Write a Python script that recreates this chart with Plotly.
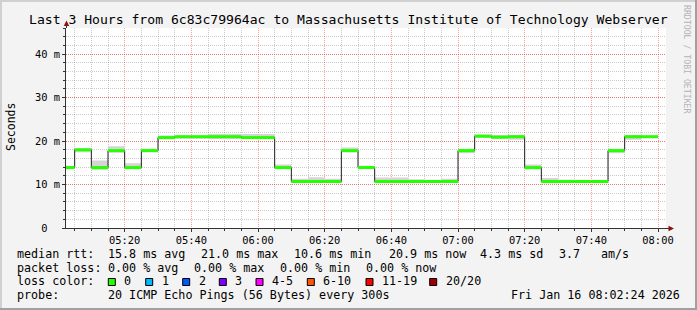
import pandas as pd
import plotly.graph_objects as go

# ---------------- data ----------------
interval_end = pd.date_range("2026-01-16 05:05", "2026-01-16 08:00", freq="5min")
median_ms = [13.9, 18.0, 13.9, 17.8, 13.9, 17.8, 20.8, 21.0, 21.0, 21.0, 21.0, 20.8,
             20.8, 13.9, 10.7, 10.7, 10.7, 17.8, 13.9, 10.7, 10.7, 10.7, 10.7, 10.7,
             17.8, 21.1, 20.9, 21.0, 13.9, 10.7, 10.7, 10.7, 10.7, 17.8, 21.0, 21.0]
smoke_lo_ms = [13.6, 17.4, 13.4, 17.3, 13.6, 17.4, 20.4, 20.5, 20.5, 20.4, 20.4, 20.5,
               20.5, 13.6, 10.5, 10.5, 10.5, 17.4, 13.7, 10.3, 10.3, 10.5, 10.5, 10.5,
               17.2, 20.8, 20.4, 20.3, 13.5, 10.3, 10.5, 10.5, 10.5, 17.2, 20.3, 20.8]
smoke_hi_ms = [14.3, 18.3, 15.5, 18.8, 14.9, 18.2, 21.3, 21.3, 21.3, 21.6, 21.6, 21.6,
               21.6, 14.6, 11.3, 11.7, 11.3, 18.5, 14.3, 11.6, 11.6, 11.2, 10.8, 11.3,
               18.2, 21.5, 21.4, 21.4, 14.6, 11.5, 11.1, 10.9, 10.9, 18.2, 21.4, 21.2]

x_range = ["2026-01-16 05:02:24", "2026-01-16 08:02:24"]
y_range = [0, 46]
y_tickvals = [0, 10, 20, 30, 40]
y_ticktext = ["0\u00a0\u00a0", "10 m", "20 m", "30 m", "40 m"]

title_text = "Last 3 Hours from 6c83c79964ac to Massachusetts Institute of Technology Webserver"
rtt_values = [15.8, 21.0, 10.6, 20.9]
rtt_labels = ["avg", "max", "min", "now"]
rtt_sd = 4.3
rtt_ams = 3.7
loss_values = [0.00, 0.00, 0.00, 0.00]
loss_labels = ["avg", "max", "min", "now"]
loss_color_labels = ["0", "1", "2", "3", "4-5", "6-10", "11-19", "20/20"]
loss_colors = ["#26ff00", "#00b8ff", "#0059ff", "#7e00ff", "#ff00ff", "#ff5500", "#ff0000", "#a10000"]
probe_text = "20 ICMP Echo Pings (56 Bytes) every 300s"
date_text = "Fri Jan 16 08:02:24 2026"

# ---------------- layout geometry (pixels) ----------------
W, H = 697, 310
PL, PR, PT, PB = 66, 666, 28, 228
MONO = "DejaVu Sans Mono"


def px(xp):
    return (xp - PL) / (PR - PL)


def py(yp):
    return (PB - yp) / (PB - PT)


step = pd.Timedelta(minutes=5)
starts = list(interval_end - step)
step_x = starts + [interval_end[-1]]

fig = go.Figure()

# smoke band
fig.add_trace(go.Scatter(x=step_x, y=smoke_lo_ms + [smoke_lo_ms[-1]], mode="lines",
                         line=dict(width=0, shape="hv"), hoverinfo="skip", showlegend=False))
fig.add_trace(go.Scatter(x=step_x, y=smoke_hi_ms + [smoke_hi_ms[-1]], mode="lines",
                         line=dict(width=0, shape="hv"), fill="tonexty", fillcolor="#d4d4d4",
                         hoverinfo="skip", showlegend=False))
# thin dark step line
fig.add_trace(go.Scatter(x=step_x, y=median_ms + [median_ms[-1]], mode="lines",
                         line=dict(width=1, color="#202020", shape="hv"), showlegend=False))
# green median segments
gx, gy = [], []
for s, e, v in zip(starts, interval_end, median_ms):
    gx += [s, e, None]
    gy += [v, v, None]
fig.add_trace(go.Scatter(x=gx, y=gy, mode="lines", line=dict(width=3, color=loss_colors[0]),
                         connectgaps=False, showlegend=False))

grid_major = "rgba(255,0,0,0.38)"
grid_minor = "rgba(128,128,128,0.40)"
axis_col = "#333333"

fig.update_layout(
    width=W, height=H,
    margin=dict(l=PL, r=W - PR, t=PT, b=H - PB, pad=0),
    paper_bgcolor="#f3f3f3", plot_bgcolor="#ffffff",
    showlegend=False,
    font=dict(family=MONO, color="#000000"),
    xaxis=dict(
        type="date", range=x_range, tick0="2026-01-16 05:00", dtick=20 * 60 * 1000,
        tickformat="%H:%M", showgrid=True, gridcolor=grid_major, griddash="1px,1px", gridwidth=1,
        ticks="outside", ticklen=3, tickcolor=axis_col, showline=True, linecolor=axis_col,
        linewidth=1, zeroline=False, tickfont=dict(family=MONO, size=10.4, color="#000000"),
        minor=dict(tick0="2026-01-16 05:00", dtick=5 * 60 * 1000, showgrid=True, gridcolor=grid_minor,
                   griddash="1px,1px", ticks="outside", ticklen=2, tickcolor=axis_col),
    ),
    yaxis=dict(
        range=y_range, tickmode="array", tickvals=y_tickvals, ticktext=y_ticktext,
        showgrid=True, gridcolor=grid_major, griddash="1px,1px", gridwidth=1,
        ticks="outside", ticklen=3, tickcolor=axis_col, showline=True, linecolor=axis_col,
        linewidth=1, zeroline=False, tickfont=dict(family=MONO, size=10.4, color="#000000"),
        minor=dict(tickmode="linear", tick0=0, dtick=2, showgrid=True, gridcolor=grid_minor,
                   griddash="1px,1px", ticks="outside", ticklen=2, tickcolor=axis_col),
    ),
)

shapes = []
# frame (3D shade)
shapes.append(dict(type="rect", xref="paper", yref="paper", x0=px(0), x1=px(W), y0=py(0), y1=py(2),
                   fillcolor="#d0d0d0", line=dict(width=0), layer="below"))
shapes.append(dict(type="rect", xref="paper", yref="paper", x0=px(0), x1=px(2), y0=py(0), y1=py(H),
                   fillcolor="#d0d0d0", line=dict(width=0), layer="below"))
shapes.append(dict(type="rect", xref="paper", yref="paper", x0=px(0), x1=px(W), y0=py(H - 2), y1=py(H),
                   fillcolor="#a0a0a0", line=dict(width=0), layer="below"))
shapes.append(dict(type="rect", xref="paper", yref="paper", x0=px(W - 2), x1=px(W), y0=py(0), y1=py(H),
                   fillcolor="#a0a0a0", line=dict(width=0), layer="below"))
# axis extensions and arrows
shapes.append(dict(type="line", xref="paper", yref="paper", x0=px(66.5), x1=px(66.5), y0=py(PT), y1=py(24),
                   line=dict(color=axis_col, width=1)))
shapes.append(dict(type="line", xref="paper", yref="paper", x0=px(PR), x1=px(670), y0=py(228.5), y1=py(228.5),
                   line=dict(color=axis_col, width=1)))
shapes.append(dict(type="path", xref="paper", yref="paper",
                   path=f"M {px(66.5)} {py(20.5)} L {px(63.8)} {py(26)} L {px(69.2)} {py(26)} Z",
                   fillcolor="#8b1010", line=dict(width=0)))
shapes.append(dict(type="path", xref="paper", yref="paper",
                   path=f"M {px(674)} {py(228.5)} L {px(668.5)} {py(225.8)} L {px(668.5)} {py(231.2)} Z",
                   fillcolor="#8b1010", line=dict(width=0)))

annotations = []


def txt(x, y, s, size=11.7, anchor="left", color="#000000", angle=0):
    annotations.append(dict(x=px(x), y=py(y), xref="paper", yref="paper", text=s, showarrow=False,
                            xanchor=anchor, yanchor="middle", borderpad=0, textangle=angle,
                            font=dict(family=MONO, size=size, color=color)))


txt(348.5, 19, title_text, size=13.1, anchor="center")
txt(10.5, 127.5, "Seconds", size=11.5, anchor="center", angle=-90)
txt(687, 59, "RRDTOOL / TOBI OETIKER", size=8.2, anchor="center", color="#b4b4b4", angle=90)

ROW = [253.5, 267.5, 281.3, 295.3]
# row 1: median rtt
txt(16, ROW[0], "median rtt:")
rtt_x = [107.3, 200, 293.3, 387.7]
for xx, v, lab in zip(rtt_x, rtt_values, rtt_labels):
    txt(xx, ROW[0], f"{v:.1f} ms {lab}")
txt(479.3, ROW[0], f"{rtt_sd:.1f} ms sd")
txt(558, ROW[0], f"{rtt_ams:.1f}")
txt(600.3, ROW[0], "am/s")
# row 2: packet loss
txt(16, ROW[1], "packet loss:")
loss_x = [107.3, 193.3, 279.3, 365.3]
for xx, v, lab in zip(loss_x, loss_values, loss_labels):
    txt(xx, ROW[1], f"{v:.2f} % {lab}")
# row 3: loss color
txt(16, ROW[2], "loss color:")
box_x = [108.3, 145.7, 182.7, 219.3, 256, 307.3, 366, 429.7]
for bx, lab, col in zip(box_x, loss_color_labels, loss_colors):
    shapes.append(dict(type="rect", xref="paper", yref="paper", x0=px(bx), x1=px(bx + 7),
                       y0=py(278.5), y1=py(285.5), fillcolor=col, line=dict(color="#000000", width=1)))
    txt(bx + 15, ROW[2], lab)
# row 4: probe
txt(16, ROW[3], "probe:")
txt(107.3, ROW[3], probe_text)
txt(680.5, ROW[3], date_text, anchor="right")

fig.update_layout(shapes=shapes, annotations=annotations)
fig.write_html("out.html")
